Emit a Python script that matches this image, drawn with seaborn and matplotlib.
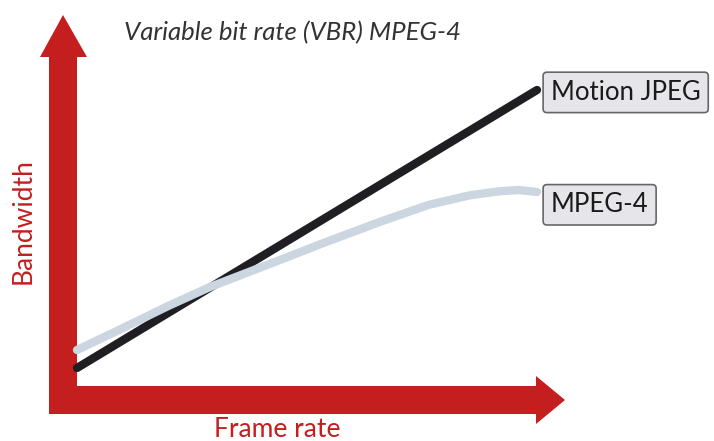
import numpy as np
import pandas as pd
import matplotlib.pyplot as plt
import seaborn as sns
from matplotlib.patches import Polygon

# data (frame rate -> bandwidth, arbitrary units)
mjpeg_x = [0, 10]
mjpeg_y = [1.1, 8.05]

mpeg4_x = [0, 1.0, 2.0, 2.9, 4.3, 5.3, 6.6, 7.65, 8.55, 9.2, 9.6, 10]
mpeg4_y = [1.55, 2.1, 2.66, 3.13, 3.75, 4.2, 4.76, 5.18, 5.42, 5.52, 5.55, 5.5]

series_names = ["Motion JPEG", "MPEG-4"]
title_text = "Variable bit rate (VBR) MPEG-4"
xlabel_text = "Frame rate"
ylabel_text = "Bandwidth"

RED = "#c41e1e"
BLACK = "#1f1f23"
BLUE = "#cbd6e0"

sns.set_theme(style="white")
plt.rcParams["font.family"] = ["Lato", "DejaVu Sans"]

df = pd.concat([
    pd.DataFrame({"rate": mjpeg_x, "bw": mjpeg_y, "codec": series_names[0]}),
    pd.DataFrame({"rate": mpeg4_x, "bw": mpeg4_y, "codec": series_names[1]}),
])

fig = plt.figure(figsize=(7.14, 4.41), dpi=100)

# decoration layer in pixel coords (arrows, labels)
deco = fig.add_axes([0, 0, 1, 1], zorder=0)
deco.set_xlim(0, 714)
deco.set_ylim(441, 0)
deco.axis("off")

# y axis arrow
deco.add_patch(Polygon([(49, 414), (49, 57), (40, 57), (63, 15), (87, 57), (77, 57), (77, 414)],
                       closed=True, color=RED, lw=0))
# x axis arrow
deco.add_patch(Polygon([(49, 386), (536, 386), (536, 376), (565, 400), (536, 424), (536, 414), (49, 414)],
                       closed=True, color=RED, lw=0))

deco.text(124, 33, title_text, fontsize=18.5, style="italic", color="#333333", va="center", ha="left")
deco.text(277, 417, xlabel_text, fontsize=19, color=RED, va="top", ha="center")
deco.text(23, 221, ylabel_text, fontsize=19, color=RED, va="center", ha="center", rotation=90)

# data layer
ax = fig.add_axes([0, 0, 1, 1], zorder=1)
ax.patch.set_alpha(0)
sns.lineplot(data=df, x="rate", y="bw", hue="codec", palette=[BLACK, BLUE],
             linewidth=6, legend=False, ax=ax, solid_capstyle="round", solid_joinstyle="round")
ax.set_xlim(-77 / 46, 637 / 46)
ax.set_ylim(-29 / 40, 412 / 40)
ax.axis("off")

box = dict(boxstyle="round,pad=0.3,rounding_size=0.15", facecolor="#e6e6ea", edgecolor="#666666", lw=1.2)
ax.text(mjpeg_x[-1] + 0.3, mjpeg_y[-1] - 0.06, series_names[0], fontsize=18.5, color="#1a1a1a",
        va="center", ha="left", bbox=box)
ax.text(mpeg4_x[-1] + 0.3, mpeg4_y[-1] - 0.32, series_names[1], fontsize=18.5, color="#1a1a1a",
        va="center", ha="left", bbox=box)

fig.savefig("out.png", dpi=100)
